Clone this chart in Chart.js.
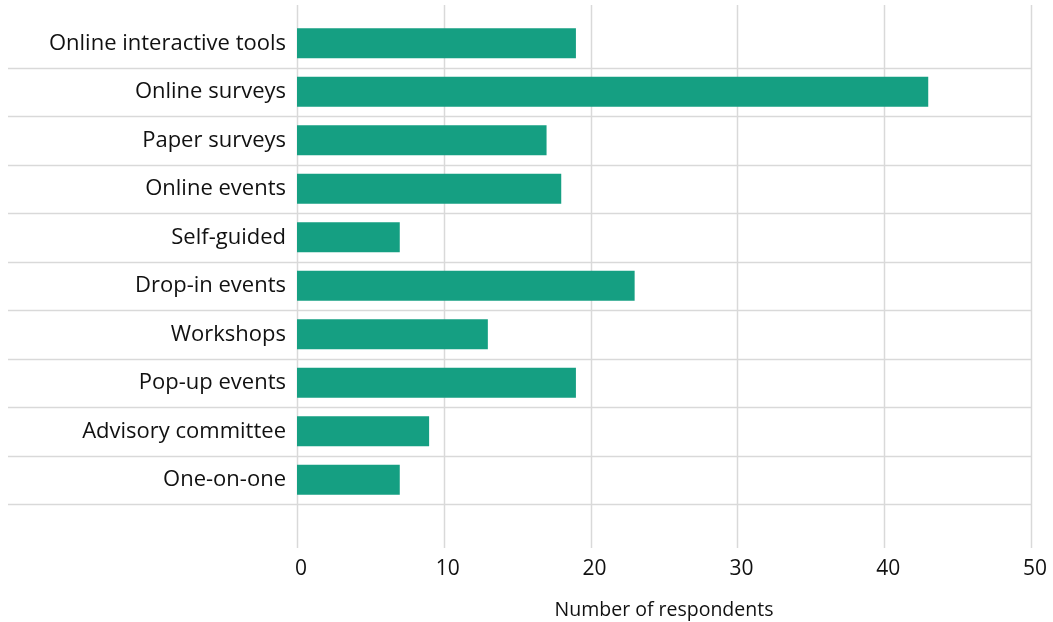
<!DOCTYPE html>
<html>
<head>
<meta charset="utf-8">
<script src="https://cdn.jsdelivr.net/npm/chart.js@4"></script>
<style>
  html, body { margin: 0; padding: 0; background: #fff; }
  #wrap { width: 1053px; height: 622px; }
</style>
</head>
<body>
<div id="wrap"><canvas id="bar-chart"></canvas></div>
<script>
const categories = ["Online interactive tools", "Online surveys", "Paper surveys", "Online events",
  "Self-guided", "Drop-in events", "Workshops", "Pop-up events", "Advisory committee", "One-on-one"];
const respondents = [19, 43, 17, 18, 7, 23, 13, 19, 9, 7];
const xTicks = [0, 10, 20, 30, 40, 50];

const gridColor = "#d9d9d9";
const fontName = "Open Sans";

// grid lines reach past the plot area, so draw them by hand under the bars
const gridPlugin = {
  id: "wideGrid",
  beforeDatasetsDraw(chart) {
    const ctx = chart.ctx;
    const x = chart.scales.x;
    const y = chart.scales.y;
    const area = chart.chartArea;
    ctx.save();
    ctx.strokeStyle = gridColor;
    ctx.lineWidth = 1.5;
    // vertical
    xTicks.forEach((v) => {
      const px = Math.round(x.getPixelForValue(v)) + 0.5;
      ctx.beginPath();
      ctx.moveTo(px, area.top - 14);
      ctx.lineTo(px, area.bottom + 44);
      ctx.stroke();
    });
    // horizontal, under each category
    const half = (y.getPixelForValue(1) - y.getPixelForValue(0)) / 2;
    categories.forEach((c, i) => {
      const py = Math.round(y.getPixelForValue(i) + half) + 0.5;
      ctx.beginPath();
      ctx.moveTo(8, py);
      ctx.lineTo(area.right, py);
      ctx.stroke();
    });
    ctx.restore();
  }
};

const config = {
  type: "bar",
  data: {
    labels: categories,
    datasets: [
      {
        label: "Number of respondents",
        data: respondents,
        backgroundColor: "#159f82",
        borderWidth: 0,
        categoryPercentage: 1,
        barPercentage: 0.62
      }
    ]
  },
  options: {
    indexAxis: "y",
    responsive: true,
    maintainAspectRatio: false,
    animation: false,
    layout: { padding: { left: 0, top: 19, right: 22, bottom: 0 } },
    plugins: {
      legend: { display: false },
      tooltip: { enabled: false }
    },
    scales: {
      x: {
        min: 0,
        max: 50,
        afterBuildTicks: (axis) => { axis.ticks = xTicks.map((v) => ({ value: v })); },
        afterFit: (axis) => {
          axis.height = 118;
          axis.paddingLeft = 0;
          axis.paddingRight = 0;
        },
        grid: { display: false },
        border: { display: false },
        ticks: {
          padding: 44,
          labelOffset: 4,
          color: "#111",
          font: { family: fontName, size: 21 }
        },
        title: {
          display: true,
          text: "Number of respondents",
          color: "#111",
          padding: { top: 10, bottom: 0 },
          font: { family: fontName, size: 19.5 }
        }
      },
      y: {
        afterFit: (axis) => {
          axis.width = 297;
          axis.paddingTop = 0;
          axis.paddingBottom = 0;
        },
        grid: { display: false },
        border: { display: false },
        ticks: {
          padding: 3,
          color: "#111",
          font: { family: fontName, size: 22 }
        }
      }
    }
  },
  plugins: [gridPlugin]
};

new Chart(document.getElementById("bar-chart"), config);
</script>
</body>
</html>
